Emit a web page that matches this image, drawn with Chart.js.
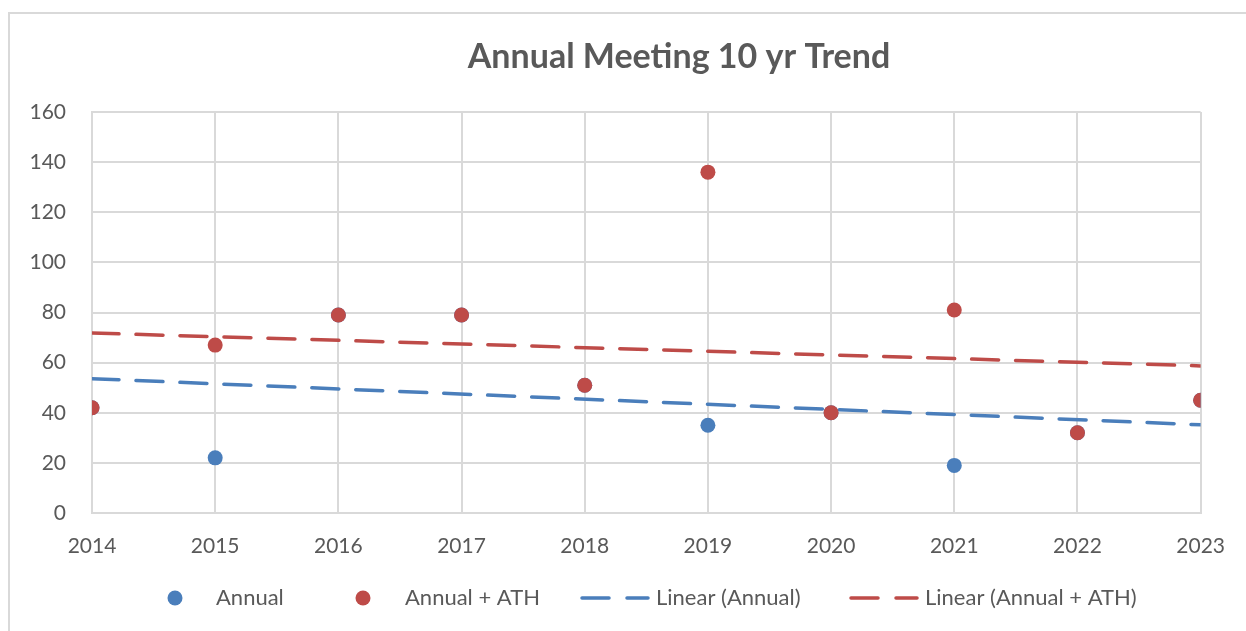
<!DOCTYPE html>
<html>
<head>
<meta charset="utf-8">
<script src="https://cdn.jsdelivr.net/npm/chart.js@4/dist/chart.umd.min.js"></script>
<style>
    html, body { margin: 0; padding: 0; background: #ffffff; }
    #frame {
        position: absolute; left: 8px; top: 12px;
        width: 1250px; height: 640px;
        border-left: 2px solid #d9d9d9; border-top: 2px solid #d9d9d9;
    }
    #wrap { position: absolute; left: 0; top: 0; width: 1246px; height: 631px; }
</style>
</head>
<body>
<div id="frame"></div>
<div id="wrap"><canvas id="chart" width="1246" height="631"></canvas></div>
<script>
    // values
    var years = [2014, 2015, 2016, 2017, 2018, 2019, 2020, 2021, 2022, 2023];
    var annual = [42, 22, 79, 79, 51, 35, 40, 19, 32, 45];
    var annualAth = [42, 67, 79, 79, 51, 136, 40, 81, 32, 45];
    // trend line ends (2014, 2023)
    var trendYears = [2014, 2023];
    var trendAnnual = [53.6, 35.2];
    var trendAnnualAth = [71.8, 58.7];
    var yTicks = [0, 20, 40, 60, 80, 100, 120, 140, 160];

    var BLUE = '#4a7ebb';
    var RED = '#be4b48';
    var GRID = '#d9d9d9';
    var TEXT = '#595959';
    var FONT = 'Lato, "Open Sans", sans-serif';

    function toPoints(xs, ys) {
        return xs.map(function (x, i) { return { x: x, y: ys[i] }; });
    }

    var legendItems = [
        { label: 'Annual', type: 'dot', color: BLUE, x: 175, tx: 216 },
        { label: 'Annual + ATH', type: 'dot', color: RED, x: 363, tx: 405 },
        { label: 'Linear (Annual)', type: 'dash', color: BLUE, x: 580, tx: 656 },
        { label: 'Linear (Annual + ATH)', type: 'dash', color: RED, x: 849, tx: 925 }
    ];

    var titleAndLegend = {
        id: 'titleAndLegend',
        afterDraw: function (chart) {
            var ctx = chart.ctx;
            ctx.save();
            ctx.fillStyle = TEXT;
            ctx.font = 'bold 34px ' + FONT;
            ctx.textAlign = 'center';
            ctx.textBaseline = 'middle';
            ctx.fillText('Annual Meeting 10 yr Trend', 679, 57);

            var ly = 598;
            ctx.font = '22px ' + FONT;
            ctx.textAlign = 'left';
            legendItems.forEach(function (it) {
                if (it.type === 'dot') {
                    ctx.beginPath();
                    ctx.arc(it.x, ly, 7.5, 0, Math.PI * 2);
                    ctx.fillStyle = it.color;
                    ctx.fill();
                } else {
                    ctx.strokeStyle = it.color;
                    ctx.lineWidth = 3.5;
                    ctx.lineCap = 'round';
                    ctx.beginPath();
                    ctx.moveTo(it.x + 2, ly); ctx.lineTo(it.x + 29, ly);
                    ctx.moveTo(it.x + 47, ly); ctx.lineTo(it.x + 68, ly);
                    ctx.stroke();
                }
                ctx.fillStyle = TEXT;
                ctx.fillText(it.label, it.tx, ly);
            });
            ctx.restore();
        }
    };

    var ctx = document.getElementById('chart').getContext('2d');
    var chart = new Chart(ctx, {
        type: 'scatter',
        data: {
            datasets: [
                {
                    label: 'Annual + ATH',
                    data: toPoints(years, annualAth),
                    backgroundColor: RED,
                    borderWidth: 0,
                    pointRadius: 7.5,
                    order: 0
                },
                {
                    label: 'Annual',
                    data: toPoints(years, annual),
                    backgroundColor: BLUE,
                    borderWidth: 0,
                    pointRadius: 7.5,
                    order: 1
                },
                {
                    label: 'Linear (Annual)',
                    type: 'line',
                    data: toPoints(trendYears, trendAnnual),
                    borderColor: BLUE,
                    borderWidth: 3.5,
                    borderDash: [27, 17],
                    borderCapStyle: 'round',
                    pointRadius: 0,
                    fill: false,
                    order: 2
                },
                {
                    label: 'Linear (Annual + ATH)',
                    type: 'line',
                    data: toPoints(trendYears, trendAnnualAth),
                    borderColor: RED,
                    borderWidth: 3.5,
                    borderDash: [27, 17],
                    borderCapStyle: 'round',
                    pointRadius: 0,
                    fill: false,
                    order: 3
                }
            ]
        },
        options: {
            responsive: false,
            animation: false,
            layout: { padding: { top: 112, right: 43, bottom: 78, left: 0 } },
            plugins: {
                legend: { display: false },
                title: { display: false },
                tooltip: { enabled: false }
            },
            scales: {
                x: {
                    type: 'linear',
                    min: years[0],
                    max: years[years.length - 1],
                    grid: { color: GRID, lineWidth: 2, drawTicks: false },
                    border: { color: GRID, width: 2 },
                    ticks: {
                        stepSize: 1,
                        padding: 21,
                        color: TEXT,
                        font: { family: FONT, size: 21 },
                        callback: function (v) { return String(v); }
                    },
                    afterFit: function (scale) { scale.height = 40; }
                },
                y: {
                    min: yTicks[0],
                    max: yTicks[yTicks.length - 1],
                    grid: { color: GRID, lineWidth: 2, drawTicks: false },
                    border: { color: GRID, width: 2 },
                    ticks: {
                        stepSize: 20,
                        padding: 26,
                        color: TEXT,
                        font: { family: FONT, size: 21 }
                    },
                    afterFit: function (scale) { scale.width = 92; }
                }
            }
        },
        plugins: [titleAndLegend]
    });
</script>
</body>
</html>
